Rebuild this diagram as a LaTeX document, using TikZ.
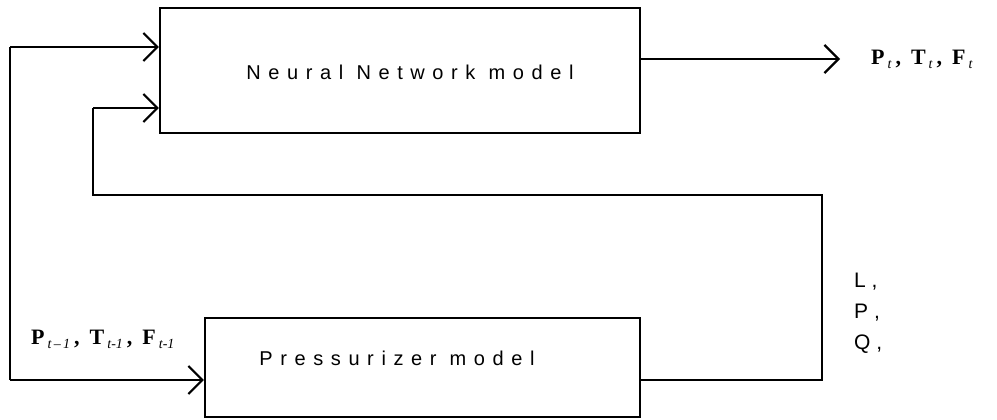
\documentclass[tikz,border=0pt]{standalone}
\usepackage{fontspec}
\setmainfont{Liberation Serif}
\newfontfamily\lsans[LetterSpace=38]{Liberation Sans}
\newfontfamily\lsanslab{Liberation Sans}
\usetikzlibrary{arrows.meta}
\tikzset{
  blk/.style={draw, line width=2.2pt, inner sep=0pt},
  wire/.style={line width=2.2pt},
  arr/.style={wire, -{Straight Barb[length=14pt, width=28pt, line width=2.2pt]}},
  boxtext/.style={font=\lsans\fontsize{20}{24}\selectfont, inner sep=0pt},
  vartext/.style={font=\bfseries\fontsize{22}{26}\selectfont, inner sep=0pt, anchor=west},
}
\newcommand{\sbt}[1]{\hspace{3pt}\raisebox{-4pt}{\fontsize{14}{16}\selectfont\mdseries\itshape #1}}
\newcommand{\cm}{\hspace{4pt},\hspace{10pt}}
\begin{document}
\begin{tikzpicture}[x=1pt, y=-1pt]
\useasboundingbox (0,0) rectangle (997,420);
% boxes
\node[blk, minimum width=480pt, minimum height=125pt] (nn) at (400,70.5) {};
\node[blk, minimum width=435pt, minimum height=99pt] (pz) at (422.5,367.5) {};
\node[boxtext] (nnt) at (410,72) {Neural Network model};
\node[boxtext] (pzt) at (397,358) {Pressurizer model};
% coordinates
\coordinate (outend) at (840,59);
\coordinate (lc1) at (10,47);
\coordinate (lc2) at (10,380);
\coordinate (rc1) at (822,380);
\coordinate (rc2) at (822,195);
\coordinate (rc3) at (93,195);
\coordinate (rc4) at (93,108);
% labels
\node[vartext] (outlab) at (871,59) {P\sbt{t}\cm T\sbt{t}\cm F\sbt{t}};
\node[vartext] (inlab) at (31,339) {P\sbt{t\,--\,1}\cm T\sbt{t-1}\cm F\sbt{t-1}};
\node[font=\lsanslab\fontsize{21}{31}\selectfont, align=left, anchor=north west, inner sep=0pt] (lpq) at (854,273) {L ,\\P ,\\Q ,};
% connectors
\draw[arr] (nn.east |- outend) -- (outend);
\draw[arr] (lc1) -- (lc1 -| nn.west);
\draw[wire] (lc1) -- (lc2);
\draw[arr] (lc2) -- (lc2 -| pz.west);
\draw[wire] (pz.east |- rc1) -- (rc1) -- (rc2) -- (rc3) -- (rc4);
\draw[arr] (rc4) -- (rc4 -| nn.west);
\end{tikzpicture}
\end{document}
